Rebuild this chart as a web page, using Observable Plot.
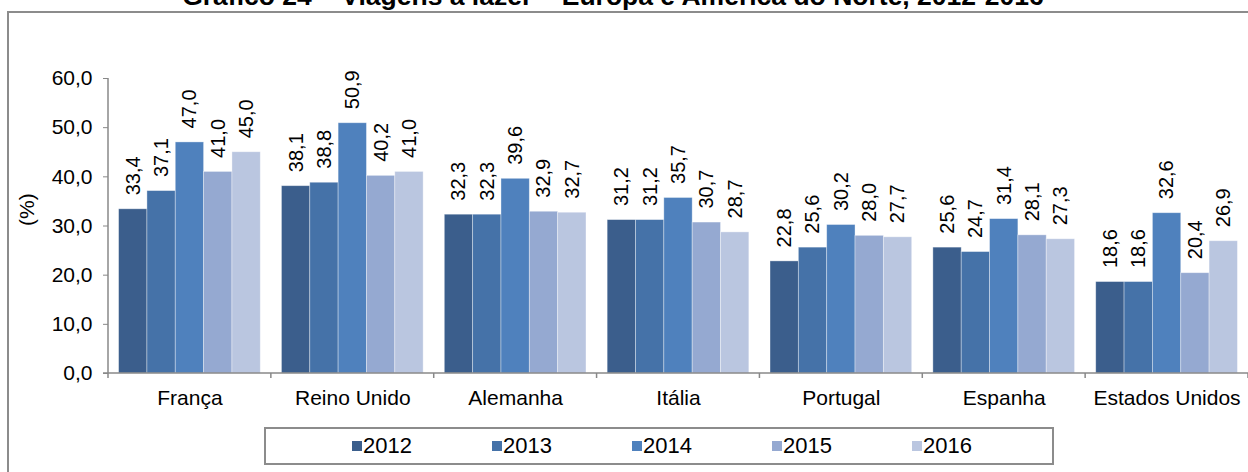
<!DOCTYPE html>
<html>
<head>
<meta charset="utf-8">
<script src="https://cdn.jsdelivr.net/npm/d3@7"></script>
<script src="https://cdn.jsdelivr.net/npm/@observablehq/plot@0.6"></script>
<style>
  body { margin: 0; background: #fff; font-family: "Liberation Sans", Arial, sans-serif; }
  #wrap { position: relative; width: 1248px; height: 472px; overflow: hidden; background: #fff; }
  #title { position: absolute; left: 0; width: 1226px; top: -17px; text-align: center;
           font-weight: bold; font-size: 26.5px; line-height: 27px; color: #000; white-space: nowrap; }
  #frame { position: absolute; left: 7px; top: 11px; width: 1400px; height: 600px;
           border-left: 2px solid #8c8c8c; border-top: 2px solid #8c8c8c; }
  #chart { position: absolute; left: 0; top: 0; }
  #legend { position: absolute; left: 264px; top: 427px; width: 700px; height: 34px;
            border: 2px solid #8c8c8c; display: flex; align-items: center; padding-left: 86px;
            box-sizing: content-box; }
  .item { display: flex; align-items: center; width: 142px; font-size: 22px; color: #000; }
  .sw { width: 10px; height: 10px; margin-right: 1px; }
</style>
</head>
<body>
<div id="wrap">
  <div id="frame"></div>
  <div id="title"></div>
  <div id="chart"></div>
  <div id="legend"></div>
</div>
<script>
const titleText = "Gráfico 24 – Viagens a lazer – Europa e América do Norte, 2012-2016";
const categories = ["França", "Reino Unido", "Alemanha", "Itália", "Portugal", "Espanha", "Estados Unidos"];
const years = ["2012", "2013", "2014", "2015", "2016"];
const v2012 = [33.4, 38.1, 32.3, 31.2, 22.8, 25.6, 18.6];
const v2013 = [37.1, 38.8, 32.3, 31.2, 25.6, 24.7, 18.6];
const v2014 = [47.0, 50.9, 39.6, 35.7, 30.2, 31.4, 32.6];
const v2015 = [41.0, 40.2, 32.9, 30.7, 28.0, 28.1, 20.4];
const v2016 = [45.0, 41.0, 32.7, 28.7, 27.7, 27.3, 26.9];
const yTicks = [0, 10, 20, 30, 40, 50, 60];
const yLabel = "(%)";
const colors = ["#3b5e8c", "#4572a8", "#4f81bd", "#95a9d1", "#bac6e0"];

const series = [v2012, v2013, v2014, v2015, v2016];
const data = categories.flatMap((c, i) => years.map((y, j) => ({cat: c, year: y, value: series[j][i]})));
const fmt = v => v.toFixed(1).replace(".", ",");

document.getElementById("title").textContent = titleText;

const plot = Plot.plot({
  width: 1248,
  height: 425,
  marginLeft: 108,
  marginRight: 0,
  marginTop: 78,
  marginBottom: 52,
  style: {fontFamily: "'Liberation Sans', Arial, sans-serif", fontSize: "21px", color: "#000", background: "transparent"},
  fx: {domain: categories, paddingInner: 0.13, paddingOuter: 0.065, round: false, label: null},
  x: {domain: years, padding: 0, round: false, axis: null},
  y: {domain: [0, 60], axis: null},
  color: {domain: years, range: colors},
  marks: [
    Plot.barY(data, {fx: "cat", x: "year", y: "value", fill: "year", stroke: "#ffffff", strokeOpacity: 0.45, strokeWidth: 0.8}),
    Plot.text(data, {fx: "cat", x: "year", y: "value", text: d => fmt(d.value), rotate: -90, textAnchor: "start", dy: -14, fontSize: 20, fill: "#000"}),
    Plot.axisY({ticks: yTicks, tickSize: 5, text: null, stroke: "#888", label: null}),
    Plot.axisY({ticks: yTicks, tickSize: 0, tickPadding: 16, tickFormat: fmt, fill: "#000", fontSize: 21, label: null}),
    Plot.text([{cat: categories[0], t: yLabel}], {fx: "cat", text: "t", frameAnchor: "left", dx: -92, rotate: -90, fontSize: 21, fill: "#000"}),
    Plot.axisFx({anchor: "bottom", tickSize: 0, tickPadding: 17, fontSize: 21, label: null})
  ]
});
document.getElementById("chart").appendChild(plot);

// axis line, baseline and category boundary ticks from the library's scales
const root = plot.tagName.toLowerCase() === "svg" ? plot : plot.querySelector("svg");
const svg = d3.select(root);
const fxs = plot.scale("fx"), ys = plot.scale("y");
const y0 = ys.apply(0), yTop = ys.apply(60);
const bw = fxs.bandwidth;
const step = fxs.apply(categories[1]) - fxs.apply(categories[0]);
const gap = step - bw;
const bounds = categories.map(c => fxs.apply(c) - gap / 2);
bounds.push(fxs.apply(categories[categories.length - 1]) + bw + gap / 2);

// the y axis sits on the first facet's edge: move it out to the category boundary
const shift = bounds[0] - fxs.apply(categories[0]);
root.querySelectorAll('g[aria-label="y-axis tick"], g[aria-label="y-axis tick label"]').forEach(el => {
  el.setAttribute("transform", `translate(${shift},0) ` + (el.getAttribute("transform") || ""));
});

const g = svg.append("g").attr("stroke", "#888").attr("stroke-width", 1.5).attr("fill", "none");
g.append("line").attr("x1", bounds[0]).attr("x2", bounds[0]).attr("y1", yTop).attr("y2", y0);
g.append("line").attr("x1", bounds[0] - 5).attr("x2", bounds[bounds.length - 1]).attr("y1", y0).attr("y2", y0);
bounds.forEach(b => g.append("line").attr("x1", b).attr("x2", b).attr("y1", y0).attr("y2", y0 + 5));

// legend
const legend = d3.select("#legend");
years.forEach((y, j) => {
  const it = legend.append("div").attr("class", "item");
  it.append("div").attr("class", "sw").style("background", colors[j]);
  it.append("span").text(y);
});
</script>
</body>
</html>
